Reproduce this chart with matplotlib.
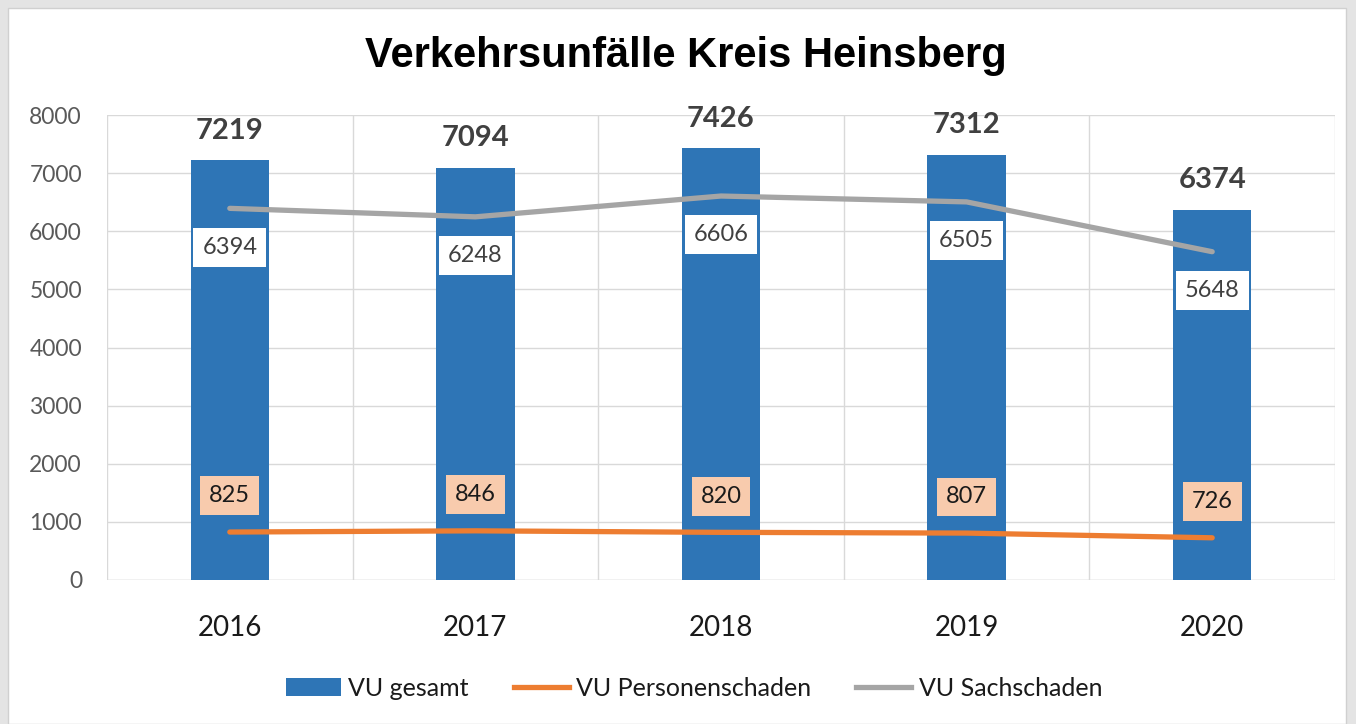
import numpy as np
import matplotlib.pyplot as plt
from matplotlib.patches import Rectangle, Patch
from matplotlib.lines import Line2D

years = ['2016', '2017', '2018', '2019', '2020']
vu_gesamt = [7219, 7094, 7426, 7312, 6374]
vu_personen = [825, 846, 820, 807, 726]
vu_sach = [6394, 6248, 6606, 6505, 5648]

blue = '#2E75B6'
orange = '#ED7D31'
gray = '#A5A5A5'

plt.rcParams['font.family'] = ['Lato', 'DejaVu Sans']

fig = plt.figure(figsize=(13.56, 7.24), dpi=100, facecolor='#e4e4e4')
fig.patches.append(Rectangle((8 / 1356, 0), 1338 / 1356, 716 / 724,
                             transform=fig.transFigure, facecolor='white',
                             edgecolor='#d0d0d0', lw=1, zorder=-10))

ax = fig.add_axes([107 / 1356, 1 - 580 / 724, 1228 / 1356, 465 / 724])
ax.set_facecolor('white')
x = np.arange(len(years))

ax.bar(x, vu_gesamt, width=0.32, color=blue, zorder=2)
ax.plot(x, vu_personen, color=orange, lw=3.8, solid_capstyle='round', zorder=3)
ax.plot(x, vu_sach, color=gray, lw=3.8, solid_capstyle='round', zorder=3)

for xi, v in zip(x, vu_gesamt):
    ax.annotate(str(v), (xi, v), xytext=(0, 12), textcoords='offset points',
                ha='center', va='bottom', fontsize=21, fontweight='bold',
                color='#404040', zorder=5)

for xi, v in zip(x, vu_sach):
    ax.annotate(str(v), (xi, v), xytext=(0, -28), textcoords='offset points',
                ha='center', va='center', fontsize=17, color='#404040', zorder=5,
                bbox=dict(boxstyle='square,pad=0.38', facecolor='white', edgecolor='none'))

for xi, v in zip(x, vu_personen):
    ax.annotate(str(v), (xi, v), xytext=(0, 26), textcoords='offset points',
                ha='center', va='center', fontsize=17, color='#1a1a1a', zorder=5,
                bbox=dict(boxstyle='square,pad=0.38', facecolor='#F8CBAD', edgecolor='none'))

ax.set_xlim(-0.5, 4.5)
ax.set_ylim(0, 8000)
ax.set_yticks(np.arange(0, 8001, 1000))
ax.set_xticks(x)
ax.set_xticklabels(years)
ax.set_xticks(np.arange(-0.5, 5, 1), minor=True)
ax.tick_params(axis='x', which='both', length=0, pad=25, labelsize=20, labelcolor='#1a1a1a')
ax.tick_params(axis='y', length=0, pad=18, labelsize=16.5, labelcolor='#595959')
ax.grid(axis='y', color='#d9d9d9', lw=1, zorder=0)
ax.grid(axis='x', which='minor', color='#d9d9d9', lw=1, zorder=0)
ax.grid(axis='x', which='major', visible=False)
for s in ax.spines.values():
    s.set_visible(False)
ax.axhline(0, color='#d9d9d9', lw=1, zorder=1)

fig.text(686 / 1356, 1 - 56 / 724, 'Verkehrsunfälle Kreis Heinsberg', ha='center', va='center',
         fontsize=30, fontweight='bold', family=['Liberation Sans', 'DejaVu Sans'], color='black')

handles = [Patch(facecolor=blue, edgecolor='none'),
           Line2D([], [], color=orange, lw=3.8),
           Line2D([], [], color=gray, lw=3.8)]
fig.legend(handles, ['VU gesamt', 'VU Personenschaden', 'VU Sachschaden'],
           loc='center', bbox_to_anchor=(694 / 1356, 1 - 688 / 724), ncol=3, frameon=False,
           fontsize=18, handlelength=2.2, handleheight=0.7, handletextpad=0.3,
           columnspacing=1.8, labelcolor='#1a1a1a')

fig.savefig('out.png', dpi=100, facecolor=fig.get_facecolor())
